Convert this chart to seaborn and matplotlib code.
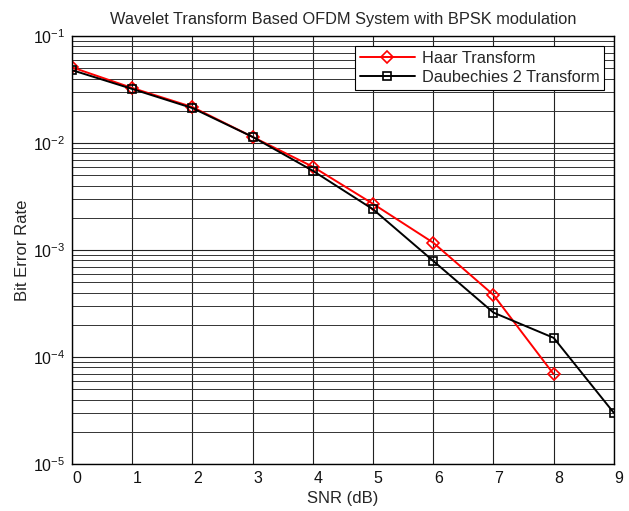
import numpy as np
import pandas as pd
import matplotlib
matplotlib.use("Agg")
import matplotlib.pyplot as plt
import matplotlib.transforms as mtransforms
import seaborn as sns
from matplotlib.ticker import LogLocator, LogFormatterSciNotation, NullFormatter

# ── Data ──────────────────────────────────────────────
snr_haar = [0, 1, 2, 3, 4, 5, 6, 7, 8]
ber_haar = [0.051, 0.0327, 0.0217, 0.0114, 0.0060, 0.0027, 0.00117, 0.00038, 6.9e-5]

snr_db2 = [0, 1, 2, 3, 4, 5, 6, 7, 8, 9]
ber_db2 = [0.048, 0.032, 0.0212, 0.0114, 0.0055, 0.0024, 0.00079, 0.00026, 0.000151, 3.0e-5]

x_ticks = list(range(10))

df = pd.concat([
    pd.DataFrame({"SNR": snr_haar, "BER": ber_haar, "scheme": "Haar Transform"}),
    pd.DataFrame({"SNR": snr_db2, "BER": ber_db2, "scheme": "Daubechies 2 Transform"}),
])

sns.set_style("white")
plt.rcParams["font.family"] = ["Liberation Sans", "DejaVu Sans"]
plt.rcParams["mathtext.fontset"] = "custom"
plt.rcParams["mathtext.rm"] = "Liberation Sans"

fig = plt.figure(figsize=(6.29, 5.11), dpi=100)
ax = fig.add_axes([0.1145, 0.092, 0.8615, 0.8375])

sns.lineplot(data=df, x="SNR", y="BER", hue="scheme", style="scheme",
             palette={"Haar Transform": "#ff0000", "Daubechies 2 Transform": "#000000"},
             markers={"Haar Transform": "D", "Daubechies 2 Transform": "s"},
             dashes=False, markersize=6, markerfacecolor="none", markeredgewidth=1.2,
             linewidth=1.4, ax=ax, sort=False)

for line in ax.get_lines():
    line.set_markeredgecolor(line.get_color())
    line.set_markerfacecolor("none")

ax.set_yscale("log")
ax.set_ylim(1e-5, 1e-1)
ax.set_xlim(0, 9)
ax.set_xticks(x_ticks)
ax.yaxis.set_major_locator(LogLocator(base=10, numticks=10))
ax.yaxis.set_major_formatter(LogFormatterSciNotation())
ax.yaxis.set_minor_locator(LogLocator(base=10, subs=np.arange(2, 10), numticks=20))
ax.yaxis.set_minor_formatter(NullFormatter())

ax.grid(True, which="major", axis="both", color="#222222", linewidth=0.8)
ax.grid(True, which="minor", axis="y", color="#333333", linewidth=0.7)
ax.tick_params(axis="both", which="both", length=0, labelsize=11.5, colors="#111111", pad=5)
# x tick labels sit slightly right of their gridlines in the original
shift = mtransforms.ScaledTranslation(5 / 100, 0, fig.dpi_scale_trans)
for lbl in ax.get_xticklabels():
    lbl.set_transform(lbl.get_transform() + shift)
for s in ax.spines.values():
    s.set_color("black")
    s.set_linewidth(1.0)

ax.set_xlabel("SNR (dB)", fontsize=12, labelpad=4)
ax.set_ylabel("Bit Error Rate", fontsize=12, labelpad=2)
ax.set_title("Wavelet Transform Based OFDM System with BPSK modulation", fontsize=11.8, pad=9)

leg = ax.legend(loc="upper right", fontsize=11.7, frameon=True, fancybox=False,
                edgecolor="black", framealpha=1, borderpad=0.3, handlelength=3.4,
                handletextpad=0.4, borderaxespad=0.6, labelspacing=0.25)
leg.get_frame().set_linewidth(0.8)
for h in leg.get_lines():
    h.set_markerfacecolor("none")
    h.set_markeredgecolor(h.get_color())

plt.savefig("out.png", dpi=100)
